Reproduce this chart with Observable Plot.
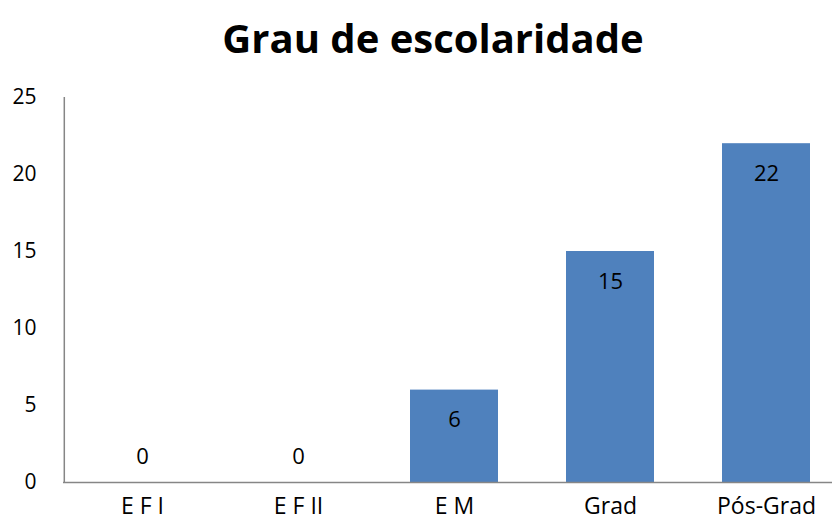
<!DOCTYPE html>
<html>
<head>
<meta charset="utf-8">
<script src="https://cdn.jsdelivr.net/npm/d3@7"></script>
<script src="https://cdn.jsdelivr.net/npm/@observablehq/plot@0.6"></script>
<style>
  html, body { margin: 0; padding: 0; background: #fff; overflow: hidden; width: 832px; height: 527px; }
  #title { height: 80px; font-family: "Open Sans", sans-serif; font-weight: bold; font-size: 40px; text-align: center; line-height: 76px; padding-left: 34px; color: #000; box-sizing: border-box; }
</style>
</head>
<body>
<div id="title">Grau de escolaridade</div>
<div id="chart"></div>
<script>
const categories = ["E F I", "E F II", "E M", "Grad", "Pós-Grad"];
const values = [0, 0, 6, 15, 22];
const yTicks = [0, 5, 10, 15, 20, 25];

const data = categories.map((c, i) => ({cat: c, val: values[i]}));

const plot = Plot.plot({
  width: 832,
  height: 447,
  marginTop: 17,
  marginBottom: 45,
  marginLeft: 63,
  marginRight: 0,
  style: {fontFamily: "'Open Sans', sans-serif", color: "#000", background: "#fff", overflow: "visible"},
  x: {domain: categories, range: [63, 845], paddingInner: 0.433, paddingOuter: 0.218},
  y: {domain: [0, 25]},
  marks: [
    Plot.barY(data, {x: "cat", y: "val", fill: "#4F81BD"}),
    Plot.ruleY([0], {stroke: "#868686", strokeWidth: 1.5}),
    Plot.ruleX([categories[0]], {y1: 0, y2: 25, dx: -78.2, stroke: "#868686", strokeWidth: 1.5}),
    Plot.axisY({ticks: yTicks, tickSize: 0, tickPadding: 27, fontSize: 21, label: null}),
    Plot.axisX({tickSize: 0, tickPadding: 15, fontSize: 23, label: null}),
    Plot.text(data.filter(d => d.val > 0), {x: "cat", y: "val", text: d => String(d.val), dy: 30, fontSize: 22, fill: "#000"}),
    Plot.text(data.filter(d => d.val === 0), {x: "cat", y: "val", text: d => String(d.val), dy: -26, fontSize: 22, fill: "#000"})
  ]
});
document.getElementById("chart").appendChild(plot);
</script>
</body>
</html>
